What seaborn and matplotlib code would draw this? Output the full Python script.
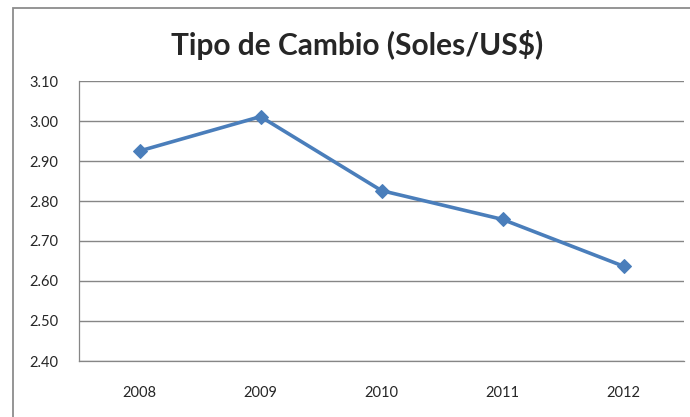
import numpy as np
import pandas as pd
import matplotlib
matplotlib.use('Agg')
import matplotlib.pyplot as plt
from matplotlib.patches import Rectangle
import seaborn as sns

years = ['2008', '2009', '2010', '2011', '2012']
tipo_cambio = [2.925, 3.011, 2.826, 2.754, 2.637]
y_ticks = [2.40, 2.50, 2.60, 2.70, 2.80, 2.90, 3.00, 3.10]

sns.set_style('white')
plt.rcParams['font.family'] = ['Lato', 'DejaVu Sans']

df = pd.DataFrame({'pos': np.arange(len(years)), 'valor': tipo_cambio})

fig = plt.figure(figsize=(6.9, 4.17), dpi=100)
ax = fig.add_axes([79 / 690, 1 - 361 / 417, 605 / 690, 280 / 417])

sns.lineplot(data=df, x='pos', y='valor', ax=ax, color='#4a7ebb', linewidth=2.6,
             marker='D', markersize=7.5, markeredgecolor='#4a7ebb')

ax.set_xlim(-0.5, len(years) - 0.5)
ax.set_ylim(y_ticks[0], y_ticks[-1])
ax.set_yticks(y_ticks)
ax.set_yticklabels([f'{v:.2f}' for v in y_ticks])
ax.yaxis.grid(True, color='#868686', linewidth=1.0)
ax.xaxis.grid(False)

# category ticks at boundaries, labels in the middle
ax.set_xticks(np.arange(len(years) + 1) - 0.5)
ax.set_xticklabels([])
ax.set_xticks(np.arange(len(years)), minor=True)
ax.set_xticklabels(years, minor=True)
ax.tick_params(axis='x', which='major', length=5, width=0.9, color='#868686', direction='out')
ax.tick_params(axis='x', which='minor', length=0, pad=18, labelsize=10.5)
ax.tick_params(axis='y', length=5, width=0.9, color='#868686', pad=10, labelsize=10.5)

for side in ['top', 'right']:
    ax.spines[side].set_visible(False)
for side in ['left', 'bottom']:
    ax.spines[side].set_color('#868686')
    ax.spines[side].set_linewidth(0.9)

ax.set_xlabel('')
ax.set_ylabel('')

fig.text(357 / 690, 1 - 45 / 417, 'Tipo de Cambio (Soles/US$)', ha='center', va='center',
         fontsize=21.5, fontweight='bold')

# outer chart border (cropped at right and bottom)
fig.patches.append(Rectangle((13 / 690, -0.05), 1.0, 1.05 - 8 / 417,
                             transform=fig.transFigure, fill=False,
                             edgecolor='#8c8c8c', linewidth=1.3))

fig.savefig('out.png', dpi=100)
